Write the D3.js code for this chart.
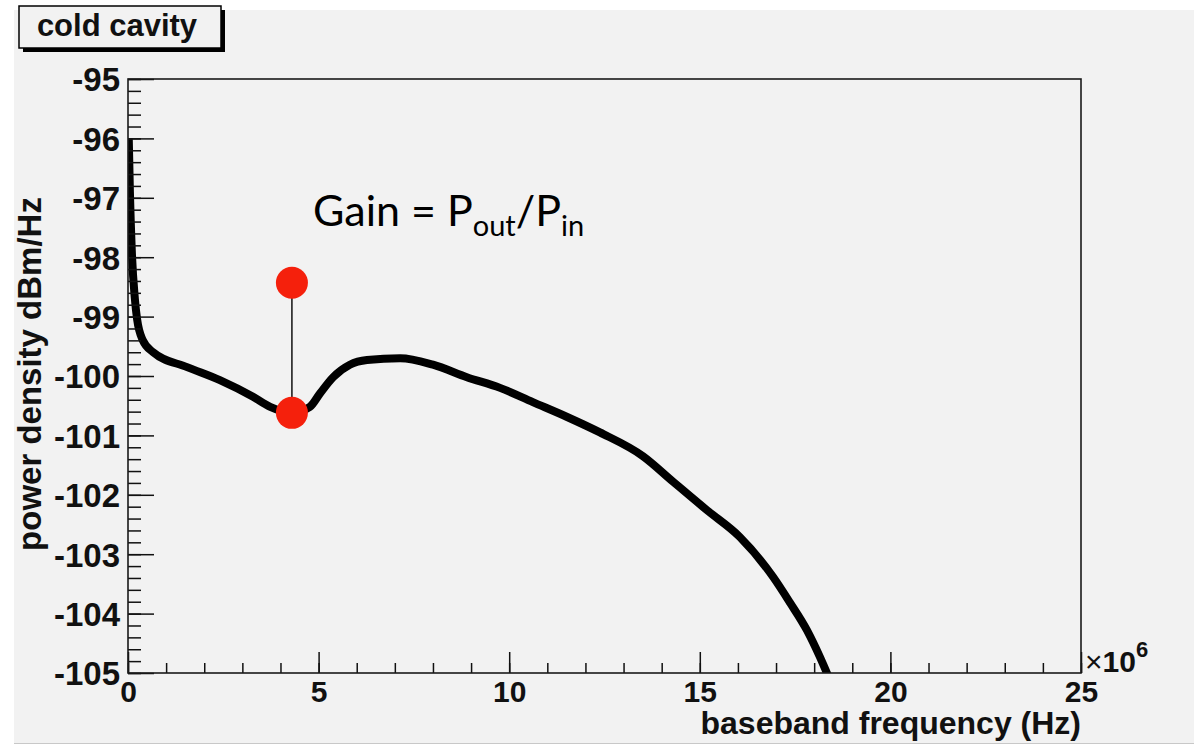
<!DOCTYPE html>
<html>
<head>
<meta charset="utf-8">
<script src="https://cdn.jsdelivr.net/npm/d3@7/dist/d3.min.js"></script>
<style>
  html, body { margin: 0; padding: 0; background: #fff; }
  svg { display: block; }
  .tick text { font-family: "Liberation Sans", Arial, sans-serif; font-weight: bold; fill: #111; }
</style>
</head>
<body>
<svg id="chart" width="1194" height="745"></svg>
<script>
// Baseband noise spectrum (frequency in MHz, power density in dBm/Hz)
const freqMHz = [0.02, 0.05, 0.1, 0.18, 0.24, 0.39, 0.66, 1.55, 2.41, 3.28, 3.73, 4.3, 4.77, 5.04, 5.38, 5.82, 6.27, 7.14, 8.0, 8.89, 9.76, 10.62, 11.52, 12.38, 13.51, 14.3, 15.19, 16.05, 16.92, 17.37, 17.81, 18.15, 18.4];
const powerDbm = [-96.0, -96.9, -97.9, -98.7, -99.05, -99.4, -99.6, -99.85, -100.07, -100.35, -100.52, -100.62, -100.52, -100.29, -100.02, -99.81, -99.73, -99.70, -99.81, -100.02, -100.2, -100.44, -100.69, -100.95, -101.35, -101.78, -102.26, -102.71, -103.38, -103.82, -104.28, -104.73, -105.1];

// Gain marker: input level on the curve and output level above it
const gainFreqMHz = 4.3;
const gainLevels = [-98.43, -100.62];

const xTicks = [0, 5, 10, 15, 20, 25];
const yTicks = [-95, -96, -97, -98, -99, -100, -101, -102, -103, -104, -105];

const svg = d3.select("#chart");
const W = 1194, H = 745;
const frame = { left: 128, right: 1081, top: 79, bottom: 673 };

const x = d3.scaleLinear().domain([0, 25]).range([frame.left, frame.right]);
const y = d3.scaleLinear().domain([-105, -95]).range([frame.bottom, frame.top]);

const sansBold = '"Liberation Sans", Arial, sans-serif';
const plain = d => String(d);

// canvas
svg.append("rect").attr("width", W).attr("height", H).attr("fill", "#fff");
svg.append("rect").attr("x", 14).attr("y", 10).attr("width", W - 14).attr("height", 733).attr("fill", "#f2f2f2");
svg.append("line").attr("x1", 14).attr("x2", W).attr("y1", 743.5).attr("y2", 743.5).attr("stroke", "#c8c8c8").attr("stroke-width", 1);

// clip to frame
svg.append("clipPath").attr("id", "clip")
  .append("rect").attr("x", frame.left).attr("y", frame.top)
  .attr("width", frame.right - frame.left).attr("height", frame.bottom - frame.top);

// spectrum line
const line = d3.line().x((d, i) => x(freqMHz[i])).y(d => y(d)).curve(d3.curveMonotoneX);
svg.append("path")
  .attr("clip-path", "url(#clip)")
  .attr("d", line(powerDbm))
  .attr("fill", "none").attr("stroke", "#000").attr("stroke-width", 8).attr("stroke-linejoin", "round");

// axes: minor ticks
svg.append("g").attr("transform", `translate(${frame.left},0)`)
  .call(d3.axisLeft(y).tickValues(d3.range(-105, -94.99, 0.2)).tickSize(-13).tickFormat(""))
  .call(g => g.select(".domain").remove());
svg.append("g").attr("transform", `translate(0,${frame.bottom})`)
  .call(d3.axisBottom(x).tickValues(d3.range(0, 25.01, 1)).tickSize(-10).tickFormat(""))
  .call(g => g.select(".domain").remove());

// axes: major ticks and labels
const yAxis = svg.append("g").attr("transform", `translate(${frame.left},0)`)
  .call(d3.axisLeft(y).tickValues(yTicks).tickSize(-26).tickPadding(8).tickFormat(plain))
  .call(g => g.select(".domain").remove());
yAxis.selectAll("text").attr("font-size", 33).attr("font-family", sansBold).attr("dy", "0.36em");

const xAxis = svg.append("g").attr("transform", `translate(0,${frame.bottom})`)
  .call(d3.axisBottom(x).tickValues(xTicks).tickSize(-21).tickPadding(8).tickFormat(plain))
  .call(g => g.select(".domain").remove());
xAxis.selectAll("text").attr("font-size", 30).attr("font-family", sansBold).attr("dy", "0.7em");

svg.selectAll(".tick line").attr("stroke", "#111").attr("stroke-width", 1.5);

// frame
svg.append("rect")
  .attr("x", frame.left).attr("y", frame.top)
  .attr("width", frame.right - frame.left).attr("height", frame.bottom - frame.top)
  .attr("fill", "none").attr("stroke", "#1a1a1a").attr("stroke-width", 1.6);

// exponent label
const expo = svg.append("text").attr("x", 1085).attr("y", 672)
  .attr("font-family", sansBold).attr("font-size", 30).attr("font-weight", "bold").attr("fill", "#111");
expo.append("tspan").attr("font-weight", "normal").text("\u00d7");
expo.append("tspan").text("10");
expo.append("tspan").attr("font-size", 22).attr("dy", -15).text("6");

// axis titles
svg.append("text").attr("x", frame.right).attr("y", 734)
  .attr("text-anchor", "end").attr("font-family", sansBold).attr("font-weight", "bold")
  .attr("font-size", 32).attr("fill", "#111").text("baseband frequency (Hz)");

svg.append("text").attr("transform", "translate(41,374) rotate(-90)")
  .attr("text-anchor", "middle").attr("font-family", sansBold).attr("font-weight", "bold")
  .attr("font-size", 33).attr("fill", "#111").text("power density dBm/Hz");

// title box
svg.append("rect").attr("x", 23).attr("y", 10).attr("width", 202).attr("height", 42).attr("fill", "#000");
svg.append("rect").attr("x", 19).attr("y", 6).attr("width", 202).attr("height", 42)
  .attr("fill", "#f2f2f2").attr("stroke", "#000").attr("stroke-width", 1.5);
svg.append("text").attr("x", 117).attr("y", 36).attr("text-anchor", "middle")
  .attr("font-family", sansBold).attr("font-weight", "bold").attr("font-size", 31).attr("fill", "#111")
  .text("cold cavity");

// gain marker
svg.append("line")
  .attr("x1", x(gainFreqMHz)).attr("x2", x(gainFreqMHz))
  .attr("y1", y(gainLevels[0])).attr("y2", y(gainLevels[1]))
  .attr("stroke", "#111").attr("stroke-width", 1.5);
svg.selectAll("circle.gain").data(gainLevels).join("circle")
  .attr("class", "gain")
  .attr("cx", x(gainFreqMHz)).attr("cy", d => y(d)).attr("r", 16)
  .attr("fill", "#f5200c");

// gain annotation
const gain = svg.append("text").attr("x", 313).attr("y", 226)
  .attr("font-family", "Lato, 'Open Sans', sans-serif").attr("font-size", 43).attr("fill", "#000");
gain.append("tspan").text("Gain = P");
gain.append("tspan").attr("font-size", 29).attr("dy", 10).text("out");
gain.append("tspan").attr("dy", -10).text("/P");
gain.append("tspan").attr("font-size", 29).attr("dy", 10).text("in");
</script>
</body>
</html>
